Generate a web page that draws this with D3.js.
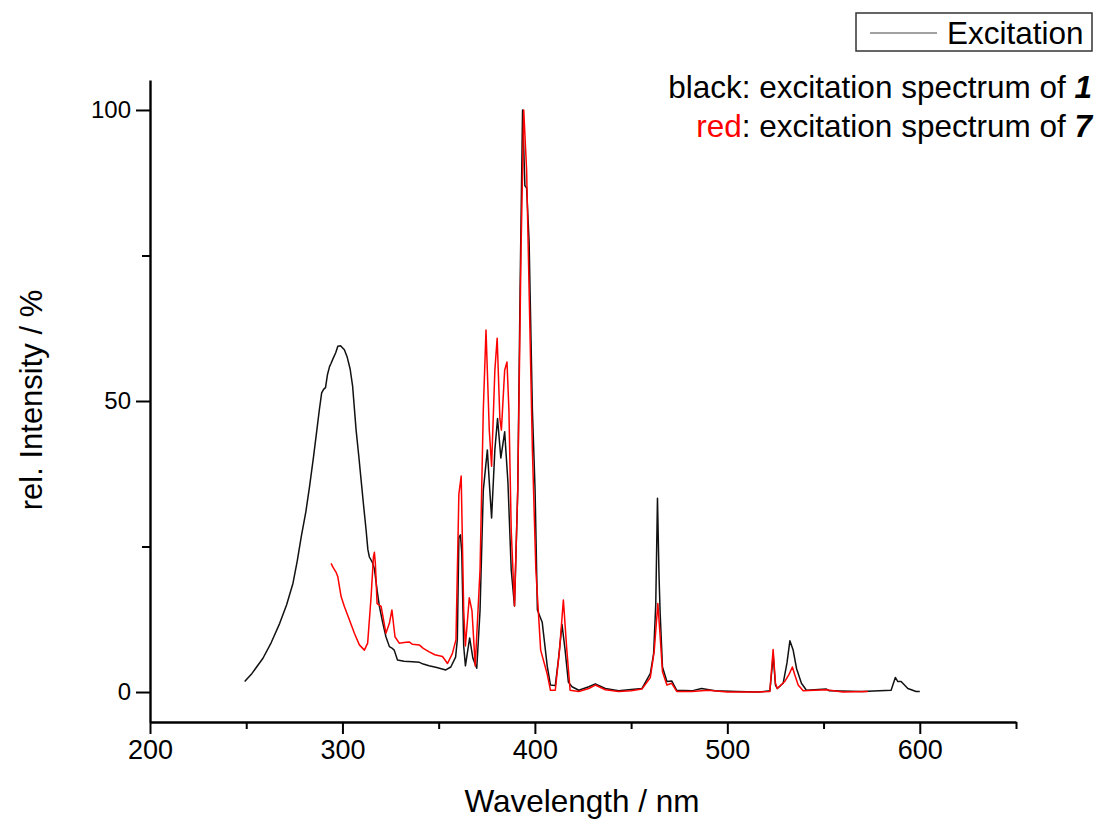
<!DOCTYPE html>
<html>
<head>
<meta charset="utf-8">
<script src="https://cdn.jsdelivr.net/npm/d3@7"></script>
<style>
  body { margin: 0; background: #fff; }
  svg text { font-family: "Liberation Sans", Arial, sans-serif; fill: #000; }
</style>
</head>
<body>
<svg id="chart" width="1099" height="821"></svg>
<script>
// excitation spectrum of 1 (black), [wavelength nm, rel. intensity %]
const spectrum1 = [
  [249.2,1.8],[253,3.2],[258.7,5.8],[263,8.5],[267.4,11.8],[271,15],[274.3,18.7],[276.5,22.5],
  [278.6,26.7],[281,31],[282.9,35.3],[285,40.5],[286.7,45],[288,48.5],[289.2,51.4],[290.2,52],
  [291.2,52.3],[292.2,54.5],[293.3,55.9],[294,56.4],[295,57.2],[296.5,58.3],[297.6,59.4],[299,59.5],
  [301,58.8],[302.5,57.5],[304,55.5],[305.3,52.5],[307.1,45],[308.5,40.5],[309.7,36.4],[311,32],
  [312.3,27.8],[313.2,24.5],[314,23.2],[315.5,22.3],[316.6,21.2],[318,17.5],[319.2,14.7],[321,11.8],
  [322.6,9.5],[324.4,7.8],[325.5,7.6],[326.9,7.2],[328.6,5.5],[332,5.3],[336.4,5.2],[340,5.1],
  [342,4.8],[345,4.5],[349,4.2],[353.7,3.8],[356.3,4.3],[358.8,6],[359.7,9],[360.5,26.5],
  [361.3,27],[362,24],[363,7.9],[363.9,4.5],[366.1,9.3],[367.8,5.8],[369.8,4.1],[371.5,14],
  [373.2,34.7],[375.3,41.6],[376.5,35],[377.5,29.9],[379.2,41.6],[380.6,47],[382.3,40.2],[384.3,44.7],
  [386,36],[387.7,21],[389.4,14.8],[391.1,34.7],[392.3,69],[393.6,100],[394.8,87],[395.7,86.6],
  [397,77.3],[398.7,48.5],[400.1,34.7],[401.3,14.1],[403.8,12],[406.4,4.5],[408.1,1.2],[410.6,1.1],
  [412.3,5.8],[414.1,11.6],[415.7,7.2],[417.4,1.7],[419.3,0.9],[422.8,0.3],[428,0.9],[431.4,1.4],
  [436.6,0.6],[443.5,0.2],[448.7,0.4],[455.6,0.6],[460,3.2],[461.7,6.6],[462.8,15],[463.7,33.3],
  [464.5,20],[465.1,13.5],[466.3,4.3],[468.6,1.8],[471.1,1.9],[473.7,0.3],[481.5,0.2],[486.6,0.6],
  [493.6,0.2],[505,0.1],[516,0],[522.1,0.2],[523.2,4],[523.8,6.5],[525,1.2],[526,0.6],
  [529,1.5],[531,5],[532.5,8.8],[534.2,7.2],[536,4],[538.5,1.5],[541.1,0.3],[551.5,0.5],
  [553,0.2],[570,0.1],[585.1,0.3],[587.3,2.5],[588.6,1.8],[590.3,1.8],[593.8,0.6],[598.1,0.1],[600,0.1]
];

// excitation spectrum of 7 (red)
const spectrum7 = [
  [294.1,22.1],[295,21.5],[295.9,21],[296.8,20.5],[297.6,19.8],[299.3,16.4],[301,14.7],[303.6,12.4],
  [306.2,10.1],[308.8,8.1],[311.4,7.2],[313.1,8.4],[314.9,16.4],[316.1,23.2],[316.6,24],[317.1,22.1],
  [318,15.2],[320.1,14.7],[322.6,10.1],[324.4,11.8],[325.7,14.1],[327.3,9.5],[329.5,8.4],[332,8.5],
  [334.7,8.6],[336.4,8.2],[339.9,8.1],[342,7.5],[345.1,6.9],[348,6.4],[352,6.1],[354.6,4.9],
  [357.1,6.6],[359,9],[360.5,34],[361.7,37.1],[363,14.1],[363.9,7.9],[365.9,16.2],[367.3,14],
  [369,4.5],[371.5,21],[373.2,48.5],[374.6,62.2],[376.3,45],[377.5,38.8],[379.2,55.3],[380.4,60.8],
  [381.8,47],[382.6,45],[384.3,55.3],[385.5,56.7],[386.5,48.5],[387.7,27.8],[389.4,14.8],[391.1,34.7],
  [392.8,75.9],[394.2,100],[395.7,89.7],[397,69],[398.7,41.6],[400.5,21],[403,7.2],[406.4,3.1],
  [408.1,0.3],[410.6,0.3],[412.8,7.2],[414.8,15.8],[416.6,7.2],[418.3,0.3],[422.8,0.1],[428,0.6],
  [431.4,1.2],[436.6,0.4],[443.5,0.1],[450,0.2],[455.6,0.5],[460,2.5],[462,7],[463.9,15.2],
  [465,10],[466.3,3.5],[468.6,1.2],[471.1,1.5],[473.7,0.1],[481.5,0.1],[490,0.3],[500,0],
  [516,0],[522.1,0.1],[523.8,7.3],[525,1.5],[526,0.6],[529.8,1.8],[532,3],[533.8,4.3],
  [535,3],[536.8,1.2],[539.4,0.2],[551.5,0.4],[560,0],[573,0.1]
];

const xMajor = [200, 300, 400, 500, 600];
const xMinor = [250, 350, 450, 550, 650];
const yMajor = [0, 50, 100];
const yMinor = [25, 75];

const svg = d3.select("#chart");

const x = d3.scaleLinear().domain([200, 650]).range([150, 1016]);
const y = d3.scaleLinear().domain([-5.15, 105.15]).range([722, 80]);

// axes
const xAxis = svg.append("g").attr("transform", "translate(0,722)");
xAxis.call(d3.axisBottom(x).tickValues(xMajor).tickSize(12).tickSizeOuter(0).tickPadding(6));
xAxis.call(g => g.select(".domain").attr("stroke-width", 2.4));
xAxis.selectAll(".tick line").attr("stroke-width", 2);
xAxis.selectAll(".tick text")
  .style("font-family", "'Liberation Sans Narrow', 'Liberation Sans', Arial, sans-serif")
  .attr("font-size", 27);
svg.append("g").attr("transform", "translate(0,722)")
  .call(d3.axisBottom(x).tickValues(xMinor).tickSize(7).tickFormat(""))
  .call(g => g.select(".domain").remove())
  .selectAll(".tick line").attr("stroke-width", 2);

const yAxis = svg.append("g").attr("transform", "translate(150,0)");
yAxis.call(d3.axisLeft(y).tickValues(yMajor).tickSize(14).tickSizeOuter(0).tickPadding(5));
yAxis.call(g => g.select(".domain").attr("stroke-width", 2.4));
yAxis.selectAll(".tick line").attr("stroke-width", 2);
yAxis.selectAll(".tick text").attr("font-size", 24);
svg.append("g").attr("transform", "translate(150,0)")
  .call(d3.axisLeft(y).tickValues(yMinor).tickSize(8).tickFormat(""))
  .call(g => g.select(".domain").remove())
  .selectAll(".tick line").attr("stroke-width", 2);

// spectra
const line = d3.line().x(d => x(d[0])).y(d => y(d[1]));

svg.append("path")
  .datum(spectrum1)
  .attr("fill", "none")
  .attr("stroke", "#111")
  .attr("stroke-width", 1.5)
  .attr("stroke-linejoin", "round")
  .attr("d", line);

svg.append("path")
  .datum(spectrum7)
  .attr("fill", "none")
  .attr("stroke", "#ff0000")
  .attr("stroke-width", 1.5)
  .attr("stroke-linejoin", "round")
  .attr("d", line);

// axis titles
svg.append("text")
  .attr("x", 582).attr("y", 812)
  .attr("text-anchor", "middle")
  .attr("font-size", 31.5)
  .text("Wavelength / nm");

svg.append("text")
  .attr("transform", "translate(42,400) rotate(-90)")
  .attr("text-anchor", "middle")
  .attr("font-size", 31)
  .text("rel. Intensity / %");

// legend box
svg.append("rect")
  .attr("x", 856).attr("y", 13)
  .attr("width", 236).attr("height", 38)
  .attr("fill", "#fff")
  .attr("stroke", "#333")
  .attr("stroke-width", 1.5);
svg.append("line")
  .attr("x1", 870).attr("x2", 937)
  .attr("y1", 33).attr("y2", 33)
  .attr("stroke", "#444")
  .attr("stroke-width", 1.2);
svg.append("text")
  .attr("x", 947).attr("y", 44)
  .attr("font-size", 31.5)
  .text("Excitation");

// annotations
const note1 = svg.append("text")
  .attr("x", 1092).attr("y", 98)
  .attr("text-anchor", "end")
  .attr("font-size", 31.5);
note1.append("tspan").text("black: excitation spectrum of ");
note1.append("tspan").attr("font-weight", "bold").attr("font-style", "italic").text("1");

const note2 = svg.append("text")
  .attr("x", 1092).attr("y", 137)
  .attr("text-anchor", "end")
  .attr("font-size", 31.5);
note2.append("tspan").style("fill", "#ff0000").text("red");
note2.append("tspan").text(": excitation spectrum of ");
note2.append("tspan").attr("font-weight", "bold").attr("font-style", "italic").text("7");
</script>
</body>
</html>
